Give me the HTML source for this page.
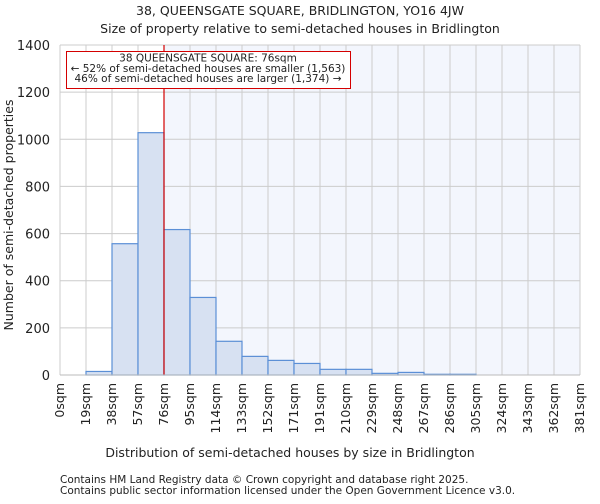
<!DOCTYPE html>
<html><head><meta charset="utf-8"><style>
body{margin:0;background:#fff;font-family:"DejaVu Sans","Liberation Sans",sans-serif;}
svg text{font-family:"DejaVu Sans","Liberation Sans",sans-serif;fill:#222;}
</style></head><body>
<svg id="c" width="600" height="500" xmlns="http://www.w3.org/2000/svg">
<text x="300" y="15" font-size="12.5" text-anchor="middle">38, QUEENSGATE SQUARE, BRIDLINGTON, YO16 4JW</text>
<text x="300" y="33" font-size="12.5" text-anchor="middle">Size of property relative to semi-detached houses in Bridlington</text>
<g id="plot"></g>
<text x="290" y="457" font-size="12.5" text-anchor="middle">Distribution of semi-detached houses by size in Bridlington</text>
<text x="13" y="215" font-size="12.5" text-anchor="middle" transform="rotate(-90 13 215)">Number of semi-detached properties</text>
<text x="60" y="483" font-size="10.5" fill="#444">Contains HM Land Registry data © Crown copyright and database right 2025.</text>
<text x="60" y="494" font-size="10.5" fill="#444">Contains public sector information licensed under the Open Government Licence v3.0.</text>
</svg>
<script>
const binLabels=["0sqm","19sqm","38sqm","57sqm","76sqm","95sqm","114sqm","133sqm","152sqm","171sqm","191sqm","210sqm","229sqm","248sqm","267sqm","286sqm","305sqm","324sqm","343sqm","362sqm","381sqm"];
const counts=[0,15,557,1028,617,329,143,79,62,49,24,24,7,11,3,3,0,0,0,0];
const yTicks=[0,200,400,600,800,1000,1200,1400];
const markerBin=4;
const NS="http://www.w3.org/2000/svg";
const X0=60,X1=580,Y0=375,Y1=45,YMAX=1400;
const nb=counts.length;
const xs=i=>X0+i*(X1-X0)/nb;
const ys=v=>Y0-v*(Y0-Y1)/YMAX;
const g=document.getElementById('plot');
function mk(t,a){const e=document.createElementNS(NS,t);for(const k in a)e.setAttribute(k,a[k]);g.appendChild(e);return e;}
const mx=xs(markerBin);
let e=mk('rect',{x:X0,y:Y1,width:mx-X0,height:Y0-Y1,fill:'#ffffff'});


e=mk('rect',{x:mx,y:Y1,width:X1-mx,height:Y0-Y1,fill:'#f3f6fd'});


for(let i=0;i<=nb;i++){e=mk('line',{x1:xs(i),x2:xs(i),y1:Y1,y2:Y0,stroke:'#cccccc','stroke-width':1});

}
yTicks.forEach(t=>{e=mk('line',{x1:X0,x2:X1,y1:ys(t),y2:ys(t),stroke:'#cccccc','stroke-width':1});


const tx=mk('text',{x:X0-10,y:ys(t)+5,'font-size':13,'text-anchor':'end'});tx.textContent=t;

});
counts.forEach((c,i)=>{if(c<=0)return;e=mk('rect',{x:xs(i),y:ys(c),width:xs(i+1)-xs(i),height:Y0-ys(c),fill:'#d7e1f2',stroke:'#5b8fd6','stroke-width':1.2});

});
binLabels.forEach((l,i)=>{const x=xs(i)+4;const tx=mk('text',{x:x,y:383,'font-size':12.5,'text-anchor':'end',transform:`rotate(-90 ${x} 383)`});tx.textContent=l;

});
e=mk('line',{x1:mx,x2:mx,y1:Y1,y2:Y0,stroke:'#d40000','stroke-width':1.2});


e=mk('line',{x1:X0,x2:X1,y1:Y0,y2:Y0,stroke:'#bbbbbb','stroke-width':1});


e=mk('rect',{x:66.5,y:51.5,width:284,height:37,fill:'#fff',stroke:'#d40000','stroke-width':1});


["38 QUEENSGATE SQUARE: 76sqm","← 52% of semi-detached houses are smaller (1,563)","46% of semi-detached houses are larger (1,374) →"].forEach((s,k)=>{const tx=mk('text',{x:208,y:61.5+k*10.3,'font-size':10.5,'text-anchor':'middle'});tx.textContent=s;

});
</script>
</body></html>
